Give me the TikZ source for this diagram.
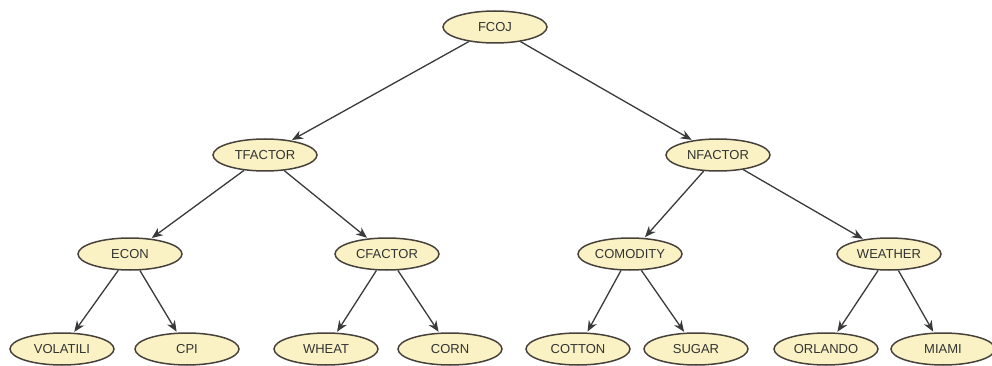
\documentclass[tikz,border=0pt]{standalone}
\usepackage{fontspec}
\setmainfont{Liberation Sans}
\usepackage{xcolor}
\usetikzlibrary{arrows.meta,positioning,shapes.geometric}
\definecolor{nodefill}{HTML}{FAF2C4}
\definecolor{edgegray}{HTML}{3A3A3A}
\begin{document}
\begin{tikzpicture}[
  x=1pt, y=-1pt,
  font=\fontsize{13}{15}\selectfont,
  ell/.style={ellipse, draw=edgegray!90!brown, fill=nodefill, line width=1.5pt,
    minimum width=104pt, minimum height=32pt, inner sep=0pt, text=black!80},
  arr/.style={-{Stealth[length=11pt,width=9pt]}, draw=edgegray, line width=1.3pt, shorten >=1pt}
]
\useasboundingbox (0,0) rectangle (992,366);
% Root and second level
\node[ell] (fcoj) at (495,27) {FCOJ};
\node[ell] (tfactor) at (265,155) {TFACTOR};
\node[ell] (nfactor) at (718,155) {NFACTOR};
\draw[arr] (fcoj)--(tfactor); \draw[arr] (fcoj)--(nfactor);

% Third level
\node[ell] (econ) at (130,254) {ECON};
\node[ell] (cfactor) at (387,254) {CFACTOR};
\node[ell] (comodity) at (630,254) {COMODITY};
\node[ell] (weather) at (889,254) {WEATHER};
\draw[arr] (tfactor)--(econ); \draw[arr] (tfactor)--(cfactor);
\draw[arr] (nfactor)--(comodity); \draw[arr] (nfactor)--(weather);

% Leaves
\node[ell] (volatili) at (62,349) {VOLATILI};
\node[ell] (cpi) at (187,349) {CPI};
\node[ell] (wheat) at (326,349) {WHEAT};
\node[ell] (corn) at (450,349) {CORN};
\node[ell] (cotton) at (578,349) {COTTON};
\node[ell] (sugar) at (696,349) {SUGAR};
\node[ell] (orlando) at (826,349) {ORLANDO};
\node[ell] (miami) at (943,349) {MIAMI};
\draw[arr] (econ)--(volatili); \draw[arr] (econ)--(cpi);
\draw[arr] (cfactor)--(wheat); \draw[arr] (cfactor)--(corn);
\draw[arr] (comodity)--(cotton); \draw[arr] (comodity)--(sugar);
\draw[arr] (weather)--(orlando); \draw[arr] (weather)--(miami);
\end{tikzpicture}
\end{document}
